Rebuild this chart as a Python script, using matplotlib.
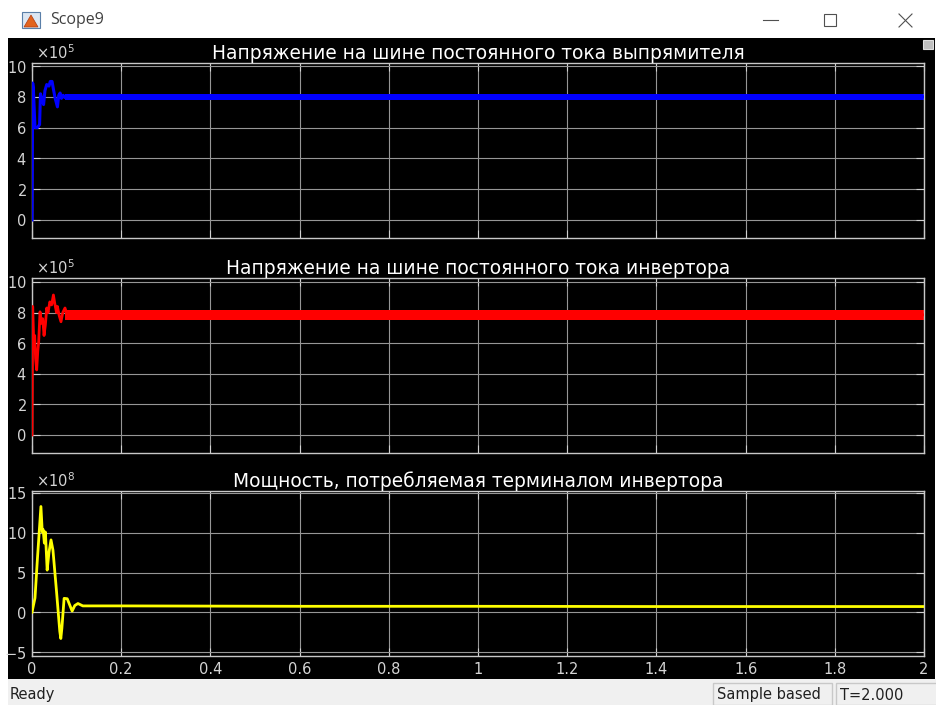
import numpy as np
import matplotlib.pyplot as plt
from matplotlib.patches import Rectangle, Polygon
from matplotlib.lines import Line2D
from matplotlib.ticker import ScalarFormatter, MultipleLocator, FormatStrFormatter

plt.rcParams['axes.unicode_minus'] = False
plt.rcParams['font.family'] = 'DejaVu Sans'

W, H = 937, 705

# DC bus voltage, rectifier side (V)
t_rect = [0, 0.0015, 0.003, 0.0067, 0.012, 0.017, 0.019, 0.022, 0.026, 0.029,
          0.033, 0.038, 0.041, 0.045, 0.048, 0.052, 0.057, 0.060, 0.063,
          0.066, 0.070, 0.074, 0.078, 2.0]
u_rect = [0, 8.9e5, 8.6e5, 6.0e5, 6.0e5, 6.2e5, 8.2e5, 7.9e5, 7.5e5, 8.4e5,
          8.8e5, 8.7e5, 9.0e5, 9.0e5, 8.5e5, 7.9e5, 7.35e5, 8.1e5, 8.25e5,
          7.9e5, 8.1e5, 7.95e5, 8.0e5, 8.0e5]
# ripple envelope in steady state
t_rect_band = [0.075, 2.0]
u_rect_lo = [7.82e5, 7.82e5]
u_rect_hi = [8.2e5, 8.2e5]

# DC bus voltage, inverter side (V)
t_inv = [0, 0.0015, 0.004, 0.006, 0.008, 0.0105, 0.013, 0.015, 0.018, 0.021,
         0.024, 0.027, 0.030, 0.033, 0.036, 0.040, 0.044, 0.048, 0.051,
         0.055, 0.057, 0.061, 0.065, 0.069, 0.074, 0.078, 2.0]
u_inv = [0, 8.4e5, 6.0e5, 6.5e5, 5.0e5, 4.25e5, 5.5e5, 6.1e5, 8.05e5, 7.3e5,
         7.6e5, 6.5e5, 7.2e5, 8.3e5, 8.0e5, 8.7e5, 8.5e5, 9.15e5, 8.6e5,
         8.0e5, 8.4e5, 7.8e5, 7.4e5, 8.0e5, 8.3e5, 7.9e5, 7.85e5]
t_inv_band = [0.075, 2.0]
u_inv_lo = [7.5e5, 7.5e5]
u_inv_hi = [8.2e5, 8.2e5]

# power drawn by the inverter terminal (W)
t_pow = [0, 0.0067, 0.012, 0.0157, 0.020, 0.023, 0.025, 0.0277, 0.030, 0.034,
         0.038, 0.0426, 0.047, 0.055, 0.0623, 0.0646, 0.067, 0.072, 0.079,
         0.090, 0.096, 0.103, 0.114, 0.2, 0.6, 1.0, 1.4, 2.0]
p_inv = [0, 1.8e8, 6.6e8, 9.7e8, 13.3e8, 10.1e8, 10.4e8, 8.7e8, 10.1e8, 5.3e8,
         7.5e8, 9.1e8, 7.8e8, 2.6e8, -2.4e8, -3.3e8, -2.0e8, 1.75e8, 1.7e8,
         0.15e8, 0.85e8, 1.1e8, 0.8e8, 0.8e8, 0.75e8, 0.75e8, 0.72e8, 0.72e8]

titles = ['Напряжение на шине постоянного тока выпрямителя',
          'Напряжение на шине постоянного тока инвертора',
          'Мощность, потребляемая терминалом инвертора']


def fx(x):
    return x / W


def fy(y):
    return 1 - y / H


def box(x0, y0, x1, y1, **kw):
    return Rectangle((fx(x0), fy(y1)), fx(x1) - fx(x0), fy(y0) - fy(y1),
                     transform=fig.transFigure, **kw)


fig = plt.figure(figsize=(W / 100, H / 100), dpi=100, facecolor='white')

# scope window chrome
fig.add_artist(box(8, 38, 935, 679, facecolor='black', lw=0, zorder=-10))
fig.add_artist(box(8, 679, 937, 705, facecolor='#f0f0f0', lw=0))
fig.add_artist(box(713, 683, 832, 705, facecolor='#f0f0f0',
                   edgecolor='#c8c8c8', lw=1))
fig.add_artist(box(836, 683, 937, 705, facecolor='#f0f0f0',
                   edgecolor='#c8c8c8', lw=1))
fig.add_artist(box(923, 40, 933, 49, facecolor='#c0c0c0',
                   edgecolor='#e0e0e0', lw=0.8))
fig.text(fx(10), fy(695), 'Ready', fontsize=10.5, color='#202020', va='center')
fig.text(fx(717), fy(695), 'Sample based', fontsize=10.5, color='#202020',
         va='center')
fig.text(fx(840), fy(695), 'T=2.000', fontsize=10.5, color='#202020',
         va='center')

# title bar
fig.add_artist(box(22, 12, 40, 28, facecolor='#dce6f2', edgecolor='#5a7fa8',
                   lw=0.8))
fig.add_artist(Polygon([(fx(24), fy(27)), (fx(31), fy(15)), (fx(38), fy(27))],
                       closed=True, transform=fig.transFigure,
                       facecolor='#e2631d', edgecolor='#b03a10', lw=0.5))
fig.text(fx(50), fy(20), 'Scope9', fontsize=11.5, color='#404040',
         va='center', family='Open Sans')
fig.add_artist(Line2D([fx(763), fx(778)], [fy(20), fy(20)],
                      transform=fig.transFigure, color='#505050', lw=0.8))
fig.add_artist(box(824, 14, 836, 26, facecolor='none', edgecolor='#505050',
                   lw=0.8))
fig.add_artist(Line2D([fx(899), fx(912)], [fy(14), fy(27)],
                      transform=fig.transFigure, color='#505050', lw=0.8))
fig.add_artist(Line2D([fx(899), fx(912)], [fy(27), fy(14)],
                      transform=fig.transFigure, color='#505050', lw=0.8))

# axes: (top px, bottom px, ylim, y step, exponent)
panels = [(63, 238, (-1.17e5, 10.2e5), 2e5, 5),
          (278, 453, (-1.18e5, 10.26e5), 2e5, 5),
          (491, 656, (-5.5e8, 15.25e8), 5e8, 8)]

axes = []
for i, (top, bot, ylim, step, p) in enumerate(panels):
    ax = fig.add_axes([fx(32), fy(bot), fx(924) - fx(32), fy(top) - fy(bot)])
    ax.set_facecolor('black')
    ax.set_xlim(0, 2)
    ax.set_ylim(*ylim)
    ax.xaxis.set_major_locator(MultipleLocator(0.2))
    ax.xaxis.set_major_formatter(FormatStrFormatter('%g'))
    ax.yaxis.set_major_locator(MultipleLocator(step))
    fmt = ScalarFormatter(useMathText=True)
    fmt.set_powerlimits((p, p))
    ax.yaxis.set_major_formatter(fmt)
    ax.yaxis.get_offset_text().set_color('#c8c8c8')
    ax.yaxis.get_offset_text().set_fontsize(10.5)
    ax.yaxis.get_offset_text().set_x(0.004)
    ax.grid(True, color='#969696', lw=0.8)
    ax.set_axisbelow(True)
    for s in ax.spines.values():
        s.set_color('#c8c8c8')
        s.set_linewidth(1.0)
    ax.tick_params(direction='in', length=5.5, width=0.8, color='#d0d0d0',
                   labelcolor='#d4d4d4', labelsize=10.5, top=True, right=True,
                   pad=4)
    ax.tick_params(axis='x', pad=4)
    if i < 2:
        ax.tick_params(axis='x', labelbottom=False)
    ax.set_title(titles[i], color='white', fontsize=13.4, y=1.0, pad=3)
    axes.append(ax)

ax1, ax2, ax3 = axes

# traces drawn over the left spine, like the scope does
ax1.fill_between(t_rect_band, u_rect_lo, u_rect_hi, color='blue', lw=0)
ax1.plot(t_rect, u_rect, color='blue', lw=2.2, zorder=3)

ax2.fill_between(t_inv_band, u_inv_lo, u_inv_hi, color='red', lw=0)
ax2.plot(t_inv, u_inv, color='red', lw=2.0, zorder=3)

ax3.plot(t_pow, p_inv, color='#ffff00', lw=2.0, zorder=3)

fig.savefig('out.png', dpi=100, facecolor=fig.get_facecolor())
